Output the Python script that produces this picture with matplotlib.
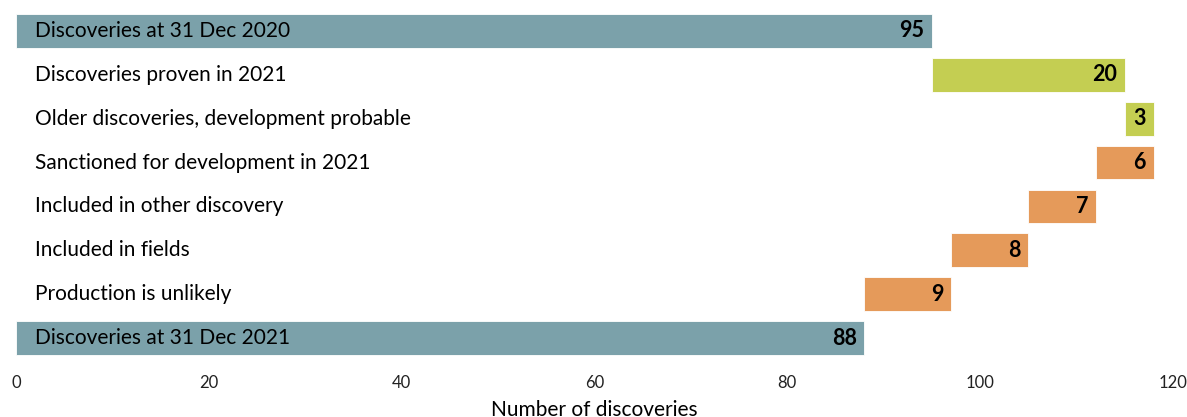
import numpy as np
import matplotlib.pyplot as plt

# waterfall of discovery counts
labels = ["Discoveries at 31 Dec 2020",
          "Discoveries proven in 2021",
          "Older discoveries, development probable",
          "Sanctioned for development in 2021",
          "Included in other discovery",
          "Included in fields",
          "Production is unlikely",
          "Discoveries at 31 Dec 2021"]
changes = [95, 20, 3, -6, -7, -8, -9]
end_total = 88
kinds = ["total", "up", "up", "down", "down", "down", "down", "total"]

colors = {"total": "#7ba1aa", "up": "#c4ce52", "down": "#e59a5a"}

plt.rcParams['font.family'] = ['Lato', 'DejaVu Sans']

fig = plt.figure(figsize=(11.87, 4.17), dpi=100)
ax = fig.add_axes([16 / 1187, 1 - 360 / 417, 1157 / 1187, 351 / 417])

lefts, widths = [], []
running = 0
for i, v in enumerate(changes):
    if i == 0:
        lefts.append(0)
        widths.append(v)
        running = v
    elif v > 0:
        lefts.append(running)
        widths.append(v)
        running += v
    else:
        running += v
        lefts.append(running)
        widths.append(-v)
lefts.append(0)
widths.append(end_total)

y = np.arange(len(labels))
ax.barh(y, widths, left=lefts, height=0.77,
        color=[colors[k] for k in kinds], edgecolor='white', linewidth=0.6)

for i, (lab, l, w) in enumerate(zip(labels, lefts, widths)):
    ax.text(2.0, i, lab, va='center', ha='left', fontsize=15)
    ax.text(l + w - 0.8, i, str(w), va='center', ha='right',
            fontsize=15.5, fontweight='bold')

ax.set_ylim(len(labels) - 0.5, -0.5)
ax.set_xlim(0, 120)
ax.set_xticks(range(0, 121, 20))
ax.set_yticks([])
ax.tick_params(axis='x', length=0, labelsize=12, pad=11, colors='#222222')
for s in ax.spines.values():
    s.set_visible(False)
ax.set_xlabel("Number of discoveries", fontsize=15, labelpad=6)

fig.savefig("out.png", dpi=100)
